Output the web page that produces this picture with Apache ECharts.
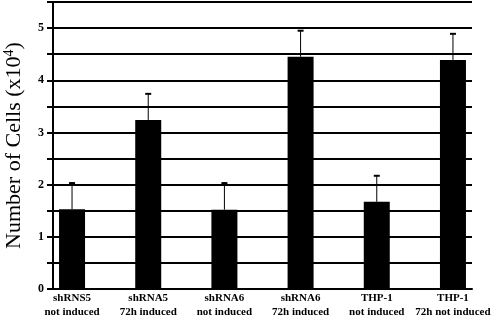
<!DOCTYPE html>
<html>
<head>
<meta charset="utf-8">
<script src="https://cdn.jsdelivr.net/npm/echarts@6/dist/echarts.min.js"></script>
<style>
  html, body { margin: 0; padding: 0; background: #fff; }
  #chart { width: 492px; height: 319px; }
</style>
</head>
<body>
<div id="chart"></div>
<script>
// 数据
var categories = ['shRNS5\nnot induced', 'shRNA5\n72h induced', 'shRNA6\nnot induced',
                  'shRNA6\n72h induced', 'THP-1\nnot induced', 'THP-1\n72h not induced'];
var cellCounts = [1.53, 3.24, 1.52, 4.45, 1.67, 4.39];
var errors = [0.5, 0.5, 0.51, 0.5, 0.5, 0.5];
var yTicks = [0, 1, 2, 3, 4, 5];

var serif = 'Liberation Serif, Times New Roman, serif';

var barData = cellCounts.map(function (v, i) { return [i, v]; });
var errData = cellCounts.map(function (v, i) { return [i, v, v + errors[i]]; });

var myChart = echarts.init(document.getElementById('chart'));
var option = {
    animation: false,
    grid: {
        left: 53,
        right: 20,
        top: 2,
        bottom: 30,
        outerBoundsMode: 'none'
    },
    xAxis: {
        type: 'value',
        min: -0.25,
        max: 5.25,
        axisLine: {
            show: true,
            onZero: false,
            lineStyle: {color: '#000', width: 2}
        },
        axisTick: {show: false},
        splitLine: {show: false},
        axisLabel: {
            customValues: [0, 1, 2, 3, 4, 5],
            formatter: function (v) { return categories[Math.round(v)]; },
            fontFamily: serif,
            fontWeight: 'bold',
            fontSize: 11,
            lineHeight: 14,
            color: '#000',
            margin: 2
        }
    },
    yAxis: {
        type: 'value',
        min: 0,
        max: 5.5,
        interval: 0.5,
        name: 'Number of Cells (x10{sup|4})',
        nameLocation: 'middle',
        nameGap: 27,
        nameRotate: 90,
        nameTextStyle: {
            fontFamily: serif,
            fontSize: 22,
            color: '#000',
            rich: {
                sup: {fontFamily: serif, fontSize: 14, color: '#000', verticalAlign: 'top', padding: [0, 0, 10, 0]}
            }
        },
        axisLine: {
            show: true,
            onZero: false,
            lineStyle: {color: '#000', width: 2}
        },
        axisTick: {
            show: true,
            length: 6,
            lineStyle: {color: '#000', width: 2}
        },
        axisLabel: {
            formatter: function (v) { return yTicks.indexOf(v) >= 0 ? v : ''; },
            fontFamily: serif,
            fontWeight: 'bold',
            fontSize: 12,
            color: '#000',
            margin: 9
        },
        splitLine: {
            lineStyle: {color: '#000', width: 2}
        }
    },
    series: [
        {
            type: 'bar',
            data: barData,
            barWidth: 26,
            itemStyle: {color: '#000'}
        },
        {
            type: 'custom',
            data: errData,
            z: 3,
            renderItem: function (params, api) {
                var base = api.coord([api.value(0), api.value(1)]);
                var top = api.coord([api.value(0), api.value(2)]);
                return {
                    type: 'group',
                    children: [
                        {type: 'line', shape: {x1: base[0], y1: base[1], x2: top[0], y2: top[1]},
                         style: {stroke: '#000', lineWidth: 1}},
                        {type: 'line', shape: {x1: top[0] - 3, y1: top[1], x2: top[0] + 3, y2: top[1]},
                         style: {stroke: '#000', lineWidth: 2}}
                    ]
                };
            }
        }
    ]
};
myChart.setOption(option);
</script>
</body>
</html>
